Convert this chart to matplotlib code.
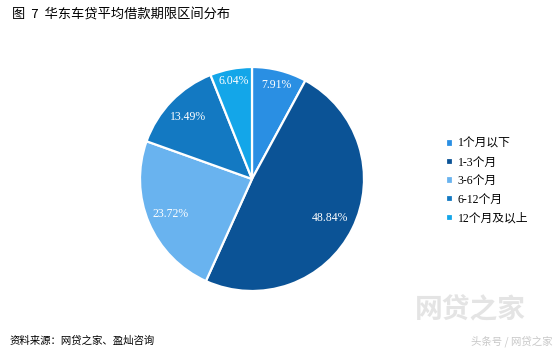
import matplotlib.pyplot as plt
import numpy as np

labels = ['1个月以下', '1-3个月', '3-6个月', '6-12个月', '12个月及以上']
values = [7.91, 48.84, 23.72, 13.49, 6.04]
colors = ['#2a8fe3', '#0b5396', '#69b3ef', '#1379c2', '#13a6e9']
label_dist = [0.87, 0.78, 0.79, 0.80, 0.89]

W, H = 557, 355
fig = plt.figure(figsize=(W / 100, H / 100), dpi=100)

cx, cy, r = 252, 179, 112
ax = fig.add_axes([(cx - r) / W, (H - cy - r) / H, 2 * r / W, 2 * r / H])
wedges, _ = ax.pie(values, colors=colors, startangle=90, counterclock=False,
                   wedgeprops=dict(edgecolor='white', linewidth=1.6))
ax.set_xlim(-1, 1)
ax.set_ylim(-1, 1)
ax.set_aspect('equal')
ax.axis('off')

for w, v, d in zip(wedges, values, label_dist):
    ang = np.deg2rad((w.theta1 + w.theta2) / 2)
    ax.text(d * np.cos(ang), d * np.sin(ang), f'{v:.2f}%', color='white',
            ha='center', va='center', fontsize=8.5, family='Liberation Serif')

ax.legend(wedges, labels, loc='upper left', bbox_to_anchor=(446 / W, (H - 138) / H),
          bbox_transform=fig.transFigure, frameon=False,
          prop={'family': ['Liberation Serif', 'Noto Sans CJK SC'], 'size': 8.5},
          handlelength=0.6, handleheight=0.6, handletextpad=0.4, labelspacing=0.56,
          borderaxespad=0, borderpad=0)

fig.text(12 / W, 1 - 15 / H, '图  7  华东车贷平均借款期限区间分布', fontsize=9.5,
         family=['Noto Sans CJK SC', 'DejaVu Sans'], va='center', ha='left')
fig.text(10 / W, 1 - 341 / H, '资料来源：网贷之家、盈灿咨询', fontsize=7.5,
         family=['Noto Sans CJK SC', 'DejaVu Sans'], va='center', ha='left')

# watermark
fig.text(470 / W, 1 - 310 / H, '网贷之家', fontsize=20, color='#e4e4e4',
         family=['Noto Sans CJK SC'], va='center', ha='center', fontweight='bold')
fig.text(512 / W, 1 - 341 / H, '头条号 / 网贷之家', fontsize=7.5, color='#c8c8c8',
         family=['Noto Sans CJK SC'], va='center', ha='center')

fig.savefig('out.png', dpi=100)
